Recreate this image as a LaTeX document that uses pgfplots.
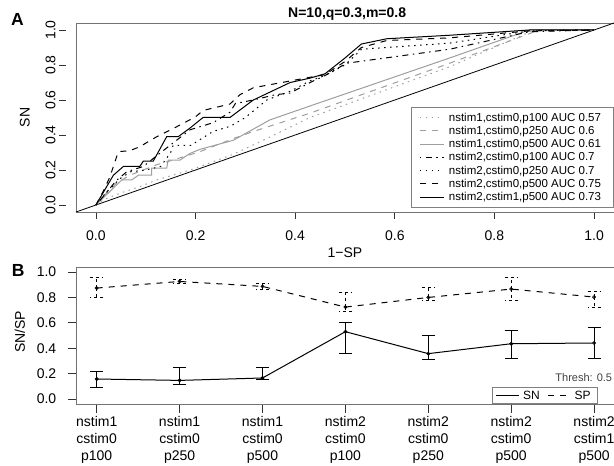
\documentclass[border=0pt]{standalone}
\usepackage{fontspec}
\setmainfont{Liberation Sans}
\usepackage{pgfplots}
\pgfplotsset{compat=1.18}
\definecolor{lgray}{gray}{0.62}
\tikzset{
  rdotted/.style={dash pattern=on 1.5pt off 4.5pt},
  rdashed/.style={dash pattern=on 6pt off 6pt},
  rdotdash/.style={dash pattern=on 1.5pt off 4.5pt on 6pt off 4.5pt},
}
\pgfplotsset{
  rbox/.style={
    scale only axis, clip=false,
    axis line style={black!55, line width=0.8pt},
    tick align=outside, tick pos=left,
    every tick/.style={black!80, line width=0.8pt},
    ticklabel style={font=\fontsize{14}{17}\selectfont},
    label style={font=\fontsize{14}{17}\selectfont},
    /pgf/number format/assume math mode=true,
  },
}
\begin{document}
\begin{tikzpicture}
\path[use as bounding box] (0pt,0pt) rectangle (614pt,466pt);

% panel A: ROC curves
\begin{axis}[rbox,
  at={(76pt,254pt)}, anchor=south west, width=538pt, height=189pt,
  xmin=-0.04, xmax=1.04, ymin=-0.04, ymax=1.04,
  major tick length=7pt,
  xtick={0,0.2,0.4,0.6,0.8,1}, xticklabels={0.0,0.2,0.4,0.6,0.8,1.0},
  ytick={0,0.2,0.4,0.6,0.8,1}, yticklabels={0.0,0.2,0.4,0.6,0.8,1.0},
  ytick style={xshift=-10pt},
  xticklabel shift=8pt,
  yticklabel shift=10pt,
  yticklabel style={rotate=90, anchor=south},
  xlabel={1−SP}, ylabel={SN},
  xlabel style={at={(axis description cs:0.5,-0.217)}, anchor=center},
  ylabel style={at={(axis description cs:-0.095,0.5)}, anchor=center},
  legend cell align=left,
  legend image code/.code={\draw[#1] (0pt,0pt) -- (24pt,0pt);},
  legend style={at={(axis cs:0.6325,0.562)}, anchor=north west,
    draw=black!50, line width=0.8pt, inner xsep=8pt, inner ysep=4pt,
    font=\fontsize{11.5}{13}\selectfont,
    nodes={inner ysep=1.7pt, inner xsep=4.5pt}, row sep=0pt},
]
\addplot[black, line width=0.8pt, forget plot] coordinates {(-0.04,-0.04) (1.04,1.04)};

\addplot[lgray, line width=1pt, rdotted] coordinates {
(0,0) (0.015,0.03) (0.048,0.067) (0.088,0.105) (0.122,0.143) (0.189,0.2)
(0.209,0.22) (0.276,0.29) (0.343,0.38) (0.43,0.5) (0.71,0.79) (0.88,1.0) (1,1)};
\addlegendentry{nstim1,cstim0,p100 AUC 0.57}

\addplot[lgray, line width=1pt, rdashed] coordinates {
(0,0) (0.015,0.05) (0.041,0.124) (0.068,0.17) (0.095,0.2) (0.122,0.23)
(0.155,0.257) (0.209,0.305) (0.276,0.38) (0.316,0.42) (0.43,0.525)
(0.71,0.81) (0.89,1.0) (1,1)};
\addlegendentry{nstim1,cstim0,p250 AUC 0.6}

\addplot[lgray, line width=1pt] coordinates {
(0,0) (0.011,0.03) (0.038,0.105) (0.052,0.143) (0.072,0.143) (0.085,0.17)
(0.112,0.17) (0.112,0.21) (0.142,0.21) (0.145,0.257) (0.169,0.257)
(0.189,0.295) (0.209,0.318) (0.276,0.37) (0.349,0.486) (0.43,0.566)
(0.71,0.84) (0.87,1.0) (1,1)};
\addlegendentry{nstim1,cstim0,p500 AUC 0.61}

\addplot[black, line width=1pt, rdotdash] coordinates {
(0,0) (0.015,0.05) (0.041,0.14) (0.062,0.19) (0.095,0.22) (0.128,0.295)
(0.162,0.37) (0.189,0.43) (0.235,0.47) (0.269,0.53) (0.28,0.58)
(0.316,0.6) (0.36,0.63) (0.39,0.64) (0.43,0.7) (0.46,0.74) (0.503,0.81)
(0.71,0.89) (0.87,0.99) (1,1)};
\addlegendentry{nstim2,cstim0,p100 AUC 0.7}

\addplot[black, line width=1pt, rdotted] coordinates {
(0,0) (0.02,0.07) (0.048,0.15) (0.07,0.19) (0.1,0.2) (0.13,0.22)
(0.15,0.3) (0.155,0.34) (0.19,0.34) (0.235,0.42) (0.27,0.45) (0.3,0.5)
(0.343,0.6) (0.39,0.65) (0.43,0.71) (0.46,0.74) (0.5,0.8) (0.533,0.89)
(0.71,0.925) (0.87,0.995) (1,1)};
\addlegendentry{nstim2,cstim0,p250 AUC 0.7}

\addplot[black, line width=1pt, rdashed] coordinates {
(0,0) (0.015,0.08) (0.028,0.16) (0.045,0.305) (0.068,0.31) (0.088,0.333)
(0.122,0.39) (0.162,0.447) (0.2,0.504) (0.215,0.54) (0.269,0.577)
(0.289,0.63) (0.316,0.67) (0.383,0.705) (0.43,0.73) (0.46,0.745)
(0.5,0.82) (0.533,0.9) (0.584,0.94) (0.71,0.955) (0.87,0.995) (1,1)};
\addlegendentry{nstim2,cstim0,p500 AUC 0.75}

\addplot[black, line width=1pt] coordinates {
(0,0) (0.035,0.17) (0.055,0.22) (0.088,0.22) (0.095,0.25) (0.115,0.25)
(0.142,0.39) (0.165,0.39) (0.189,0.44) (0.215,0.5) (0.269,0.5)
(0.316,0.6) (0.39,0.7) (0.43,0.725) (0.46,0.75) (0.5,0.84) (0.533,0.92)
(0.584,0.95) (0.71,0.97) (0.87,1.0) (1,1)};
\addlegendentry{nstim2,cstim1,p500 AUC 0.73}

\node[font=\bfseries\fontsize{14}{16}\selectfont] at (axis description cs:0.504,1.048) {N=10,q=0.3,m=0.8};
\node[font=\bfseries\fontsize{17.5}{20}\selectfont] at (axis description cs:-0.109,1.018) {A};
\end{axis}

% panel B: SN / SP
\begin{axis}[rbox,
  at={(76.8pt,62pt)}, anchor=south west, width=537.2pt, height=137pt,
  xmin=0.76, xmax=7.24, ymin=-0.04, ymax=1.04,
  major tick length=9pt,
  xtick={1,2,3,4,5,6,7},
  xticklabels={{nstim1\\cstim0\\p100},{nstim1\\cstim0\\p250},{nstim1\\cstim0\\p500},
    {nstim2\\cstim0\\p100},{nstim2\\cstim0\\p250},{nstim2\\cstim0\\p500},{nstim2\\cstim1\\p500}},
  xticklabel style={align=center},
  ytick={0,0.2,0.4,0.6,0.8,1}, yticklabels={0.0,0.2,0.4,0.6,0.8,1.0},
  yticklabel shift=8pt,
  ylabel={SN/SP},
  ylabel style={at={(axis description cs:-0.106,0.526)}, anchor=center},
  legend columns=2,
  legend image code/.code={\draw[#1] (0pt,0pt) -- (23pt,0pt);},
  legend style={at={(axis cs:5.77,-0.04)}, anchor=south west,
    draw=black!50, line width=0.8pt, inner xsep=3pt, inner ysep=1.5pt,
    font=\fontsize{12}{14}\selectfont,
    nodes={inner ysep=1.5pt, inner xsep=3.5pt},
    /tikz/every even column/.append style={column sep=4pt}},
]
\addplot[black, line width=1pt, mark=o, mark size=1.5pt,
  mark options={line width=0.8pt},
  error bars/.cd, y dir=both, y explicit,
  error mark=|, error mark options={mark size=6.5pt, line width=0.8pt},
  error bar style={line width=0.8pt}]
coordinates {
(1,0.157) += (0,0.06)  -= (0,0.07)
(2,0.146) += (0,0.103) -= (0,0.033)
(3,0.165) += (0,0.084) -= (0,0.01)
(4,0.53)  += (0,0.073) -= (0,0.168)
(5,0.357) += (0,0.143) -= (0,0.042)
(6,0.435) += (0,0.105) -= (0,0.118)
(7,0.441) += (0,0.123) -= (0,0.118)};
\addlegendentry{SN}

\addplot[black, line width=1pt, rdashed, mark=o, mark size=1.5pt,
  mark options={solid, line width=0.8pt},
  error bars/.cd, y dir=both, y explicit,
  error mark=|, error mark options={mark size=6.5pt, line width=0.8pt, dash pattern=on 3pt off 3pt},
  error bar style={line width=0.8pt, dash pattern=on 3pt off 3pt}]
coordinates {
(1,0.874) += (0,0.086) -= (0,0.071)
(2,0.926) += (0,0.019) -= (0,0.013)
(3,0.887) += (0,0.026) -= (0,0.027)
(4,0.724) += (0,0.119) -= (0,0.034)
(5,0.8)   += (0,0.082) -= (0,0.024)
(6,0.866) += (0,0.094) -= (0,0.09)
(7,0.803) += (0,0.044) -= (0,0.079)};
\addlegendentry{SP}

\node[font=\bfseries\fontsize{17.5}{20}\selectfont] at (axis description cs:-0.109,0.971) {B};
\node[anchor=east, font=\fontsize{11}{13}\selectfont, text=black!75] at (axis description cs:1.003,0.19) {Thresh: 0.5};
\end{axis}
\end{tikzpicture}
\end{document}
